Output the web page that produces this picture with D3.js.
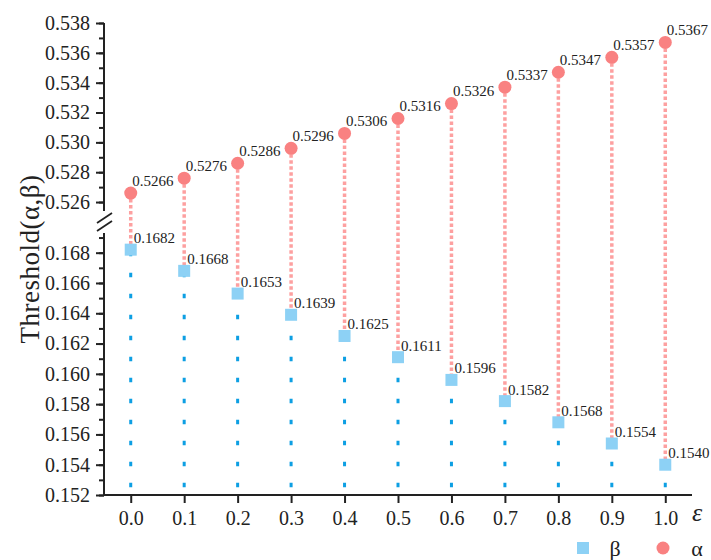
<!DOCTYPE html>
<style>
body { margin: 0; background: #fff; }
svg text { font-family: "Liberation Serif", "Times New Roman", serif; fill: #222; }
.axis .domain { stroke: #222; stroke-width: 2; }
.axis .tick line { stroke: #222; stroke-width: 2; }
</style>
<svg id="chart" width="711" height="560"></svg>
<script src="https://d3js.org/d3.v7.min.js"></script>
<script>

var eps = [0.0, 0.1, 0.2, 0.3, 0.4, 0.5, 0.6, 0.7, 0.8, 0.9, 1.0];
var alpha = [0.5266, 0.5276, 0.5286, 0.5296, 0.5306, 0.5316, 0.5326, 0.5337, 0.5347, 0.5357, 0.5367];
var beta = [0.1682, 0.1668, 0.1653, 0.1639, 0.1625, 0.1611, 0.1596, 0.1582, 0.1568, 0.1554, 0.1540];
var upperTicks = [0.526, 0.528, 0.530, 0.532, 0.534, 0.536, 0.538];
var lowerTicks = [0.152, 0.154, 0.156, 0.158, 0.160, 0.162, 0.164, 0.166, 0.168];

var svg = d3.select("#chart");
var x = d3.scaleLinear().domain([-0.05, 1.05]).range([104, 692]);
var yU = d3.scaleLinear().domain([0.5254, 0.538]).range([211, 23]);
var yL = d3.scaleLinear().domain([0.152, 0.1693]).range([495, 233]);

var fmt3 = d3.format(".3f");

// blue dotted drop lines (drawn from axis up to the point)
svg.append("g").selectAll("line")
  .data(eps)
  .enter().append("line")
    .attr("x1", function(d) { return x(d); })
    .attr("x2", function(d) { return x(d); })
    .attr("y1", yL(0.152))
    .attr("y2", function(d, i) { return yL(beta[i]); })
    .attr("stroke", "#0d9fe3")
    .attr("stroke-width", 3)
    .attr("stroke-dasharray", "4.5,16.5")
    .attr("stroke-dashoffset", 13.25);

// red dotted lines alpha -> beta
svg.append("g").selectAll("line")
  .data(eps)
  .enter().append("line")
    .attr("x1", function(d) { return x(d); })
    .attr("x2", function(d) { return x(d); })
    .attr("y1", function(d, i) { return yU(alpha[i]); })
    .attr("y2", function(d, i) { return yL(beta[i]); })
    .attr("stroke", "#fda0a0")
    .attr("stroke-width", 3.5)
    .attr("stroke-dasharray", "3.5,2.5");

// axes
var axU = svg.append("g").attr("class", "axis").attr("transform", "translate(104,0)")
  .call(d3.axisLeft(yU).tickValues(d3.range(0.526, 0.5385, 0.001)).tickSize(5).tickFormat(""));
axU.append("g").call(d3.axisLeft(yU).tickValues(upperTicks).tickSize(8).tickPadding(6).tickFormat(fmt3))
  .attr("font-size", 20).select(".domain").remove();
axU.select(".domain").attr("d", "M0," + yU(0.5254) + "V" + yU(0.538));

var axL = svg.append("g").attr("class", "axis").attr("transform", "translate(104,0)")
  .call(d3.axisLeft(yL).tickValues(d3.range(0.152, 0.1695, 0.001)).tickSize(5).tickFormat(""));
axL.append("g").call(d3.axisLeft(yL).tickValues(lowerTicks).tickSize(8).tickPadding(6).tickFormat(fmt3))
  .attr("font-size", 20).select(".domain").remove();
axL.select(".domain").attr("d", "M0," + yL(0.1693) + "V" + yL(0.152));
svg.selectAll(".axis text").attr("fill", "#222").style("font-family", "Liberation Serif");

var axX = svg.append("g").attr("class", "axis").attr("transform", "translate(0," + yL(0.152) + ")")
  .call(d3.axisBottom(x).tickValues(eps).tickSize(8).tickPadding(8).tickFormat(d3.format(".1f")))
  .attr("font-size", 20);
axX.select(".domain").attr("d", "M104,0H692");
axX.selectAll("text").attr("fill", "#222").style("font-family", "Liberation Serif");

// axis break marks
svg.append("g").attr("stroke", "#222").attr("stroke-width", 1.8)
  .selectAll("line").data([0, 8]).enter().append("line")
    .attr("x1", 97).attr("x2", 112)
    .attr("y1", function(d) { return 223 + d; })
    .attr("y2", function(d) { return 213 + d; });

// markers
svg.append("g").selectAll("rect")
  .data(eps)
  .enter().append("rect")
    .attr("x", function(d) { return x(d) - 6; })
    .attr("y", function(d, i) { return yL(beta[i]) - 6; })
    .attr("width", 12).attr("height", 12)
    .attr("fill", "#8dd1f5");

svg.append("g").selectAll("circle")
  .data(eps)
  .enter().append("circle")
    .attr("cx", function(d) { return x(d); })
    .attr("cy", function(d, i) { return yU(alpha[i]); })
    .attr("r", 6.5)
    .attr("fill", "#f98181");

// value labels
svg.append("g").attr("font-size", 15).selectAll("text")
  .data(eps)
  .enter().append("text")
    .attr("x", function(d) { return x(d) + 1.5; })
    .attr("y", function(d, i) { return yU(alpha[i]) - 7.5; })
    .text(function(d, i) { return alpha[i].toFixed(4); });

svg.append("g").attr("font-size", 15).selectAll("text")
  .data(eps)
  .enter().append("text")
    .attr("x", function(d) { return x(d) + 3; })
    .attr("y", function(d, i) { return yL(beta[i]) - 6.5; })
    .text(function(d, i) { return beta[i].toFixed(4); });

// axis titles
svg.append("text")
  .attr("transform", "translate(39,259) rotate(-90)")
  .attr("text-anchor", "middle")
  .attr("font-size", 27)
  .attr("letter-spacing", 0.5)
  .text("Threshold(α,β)");

svg.append("text")
  .attr("x", 697).attr("y", 521)
  .attr("text-anchor", "middle")
  .attr("font-size", 26)
  .attr("font-style", "italic")
  .text("ε");

// legend
var legend = svg.append("g");
legend.append("rect").attr("x", 577).attr("y", 542).attr("width", 12).attr("height", 12).attr("fill", "#8dd1f5");
legend.append("text").attr("x", 615).attr("y", 556).attr("text-anchor", "middle").attr("font-size", 22).text("β");
legend.append("circle").attr("cx", 663).attr("cy", 548).attr("r", 6.5).attr("fill", "#f98181");
legend.append("text").attr("x", 697).attr("y", 556).attr("text-anchor", "middle").attr("font-size", 22).text("α");

</script>
